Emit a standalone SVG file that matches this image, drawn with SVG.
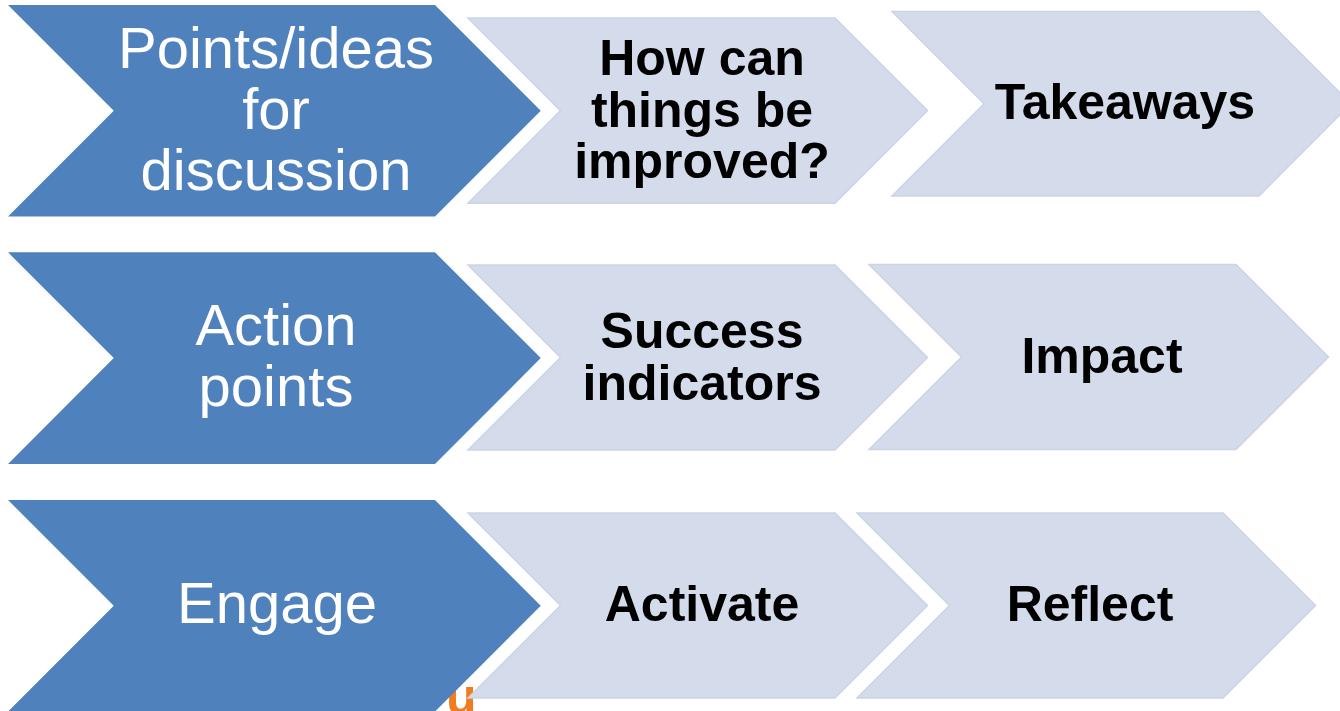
<svg xmlns="http://www.w3.org/2000/svg" width="1340" height="711" viewBox="0 0 1340 711">
<style>
.dark{fill:#4F81BD;}
.light{fill:#D4DBEB;stroke:#CBD3E6;stroke-width:1.5;}
.tw{font-family:"Liberation Sans",Arial,sans-serif;font-size:58px;fill:#FFFFFF;text-anchor:middle;}
.tb{font-family:"Liberation Sans",Arial,sans-serif;font-size:50px;font-weight:bold;fill:#000000;text-anchor:middle;}
.frag{font-family:"Liberation Sans",Arial,sans-serif;font-size:50px;font-weight:bold;fill:#F07C22;}
</style>
<rect width="1340" height="711" fill="#FFFFFF"/>
<text class="frag" x="446" y="714">u</text>
<g id="connectors"></g>
<g id="n-points">
<polygon class="dark" points="8,5 435,5 540.75,110.8 435,216.6 8,216.6 113.75,110.8"/>
<text class="tw"><tspan x="276" y="68">Points/ideas</tspan><tspan x="276" y="129">for</tspan><tspan x="276" y="190">discussion</tspan></text>
</g>
<g id="n-improve">
<polygon class="light" points="468,18 835,18 927.5,110.6 835,203.3 468,203.3 560.5,110.6"/>
<text class="tb"><tspan x="702" y="75">How can</tspan><tspan x="702" y="127">things be</tspan><tspan x="702" y="178">improved?</tspan></text>
</g>
<g id="n-takeaways">
<polygon class="light" points="892,11.5 1259,11.5 1351,103.75 1259,196 892,196 984,103.75"/>
<text class="tb" x="1125" y="119">Takeaways</text>
</g>
<g id="n-action">
<polygon class="dark" points="8,252.3 435,252.3 540.75,358.1 435,464 8,464 113.75,358.1"/>
<text class="tw"><tspan x="276" y="345">Action</tspan><tspan x="276" y="406">points</tspan></text>
</g>
<g id="n-success">
<polygon class="light" points="468,265 835,265 927.5,357.5 835,450 468,450 560.5,357.5"/>
<text class="tb"><tspan x="702" y="348">Success</tspan><tspan x="702" y="400">indicators</tspan></text>
</g>
<g id="n-impact">
<polygon class="light" points="869,264.5 1236,264.5 1328.5,357 1236,449.5 869,449.5 961.5,357"/>
<text class="tb" x="1102" y="373">Impact</text>
</g>
<g id="n-engage">
<polygon class="dark" points="8,500 435,500 540.75,605.8 435,711.6 8,711.6 113.75,605.8"/>
<text class="tw" x="277" y="623">Engage</text>
</g>
<g id="n-activate">
<polygon class="light" points="468,513 835,513 927.5,605.5 835,698 468,698 560.5,605.5"/>
<text class="tb" x="702" y="621">Activate</text>
</g>
<g id="n-reflect">
<polygon class="light" points="857,513 1223,513 1315.5,605.5 1223,698 857,698 949.5,605.5"/>
<text class="tb" x="1090" y="621">Reflect</text>
</g>
</svg>
